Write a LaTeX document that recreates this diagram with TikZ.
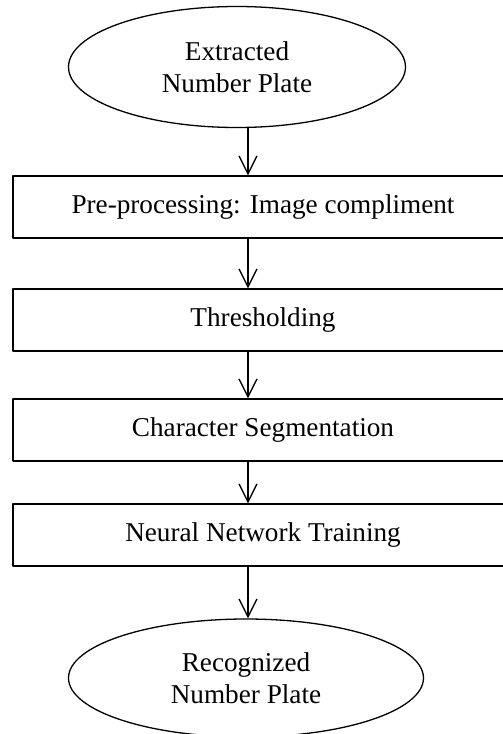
\documentclass[tikz,border=0pt]{standalone}
\usepackage{fontspec}
\setmainfont{Liberation Serif}
\usetikzlibrary{shapes.geometric,arrows.meta}
\tikzset{
  terminal/.style={draw, ellipse, line width=1.3pt, inner sep=0pt, align=center,
    minimum width=337pt, minimum height=121pt},
  stepbox/.style={draw, rectangle, line width=1.3pt, inner sep=0pt,
    minimum width=500pt, minimum height=62pt},
  flow/.style={line width=1.3pt, -{Straight Barb[length=18pt, width=18pt, line width=1.3pt]}}
}
\begin{document}
\begin{tikzpicture}[x=1pt, y=-1pt, font=\fontsize{27.2}{32.6}\selectfont, line join=round, line cap=round]
	\useasboundingbox (0,0) rectangle (503,734);
	% Trục của các mũi tên
	\coordinate (axis) at (248,0);
	% Hình elip đầu vào
	\node[terminal] (plate) at (237,67) {Extracted\\Number Plate};
	% Các bước xử lý
	\node[stepbox] (pre) at (263,207) {Pre-processing: Image compliment};
	\node[stepbox] (thresh) at (263,320) {Thresholding};
	\node[stepbox] (seg) at (263,430) {Character Segmentation};
	\node[stepbox] (nn) at (263,535) {Neural Network Training};
	% Hình elip đầu ra
	\node[terminal, minimum width=355pt, minimum height=118pt] (result) at (246,678) {Recognized\\Number Plate};
	% Các mũi tên
	\draw[flow] (plate.south -| axis) -- (pre.north -| axis);
	\draw[flow] (pre.south -| axis) -- (thresh.north -| axis);
	\draw[flow] (thresh.south -| axis) -- (seg.north -| axis);
	\draw[flow] (seg.south -| axis) -- (nn.north -| axis);
	\draw[flow] (nn.south -| axis) -- (result.north -| axis);
\end{tikzpicture}
\end{document}
